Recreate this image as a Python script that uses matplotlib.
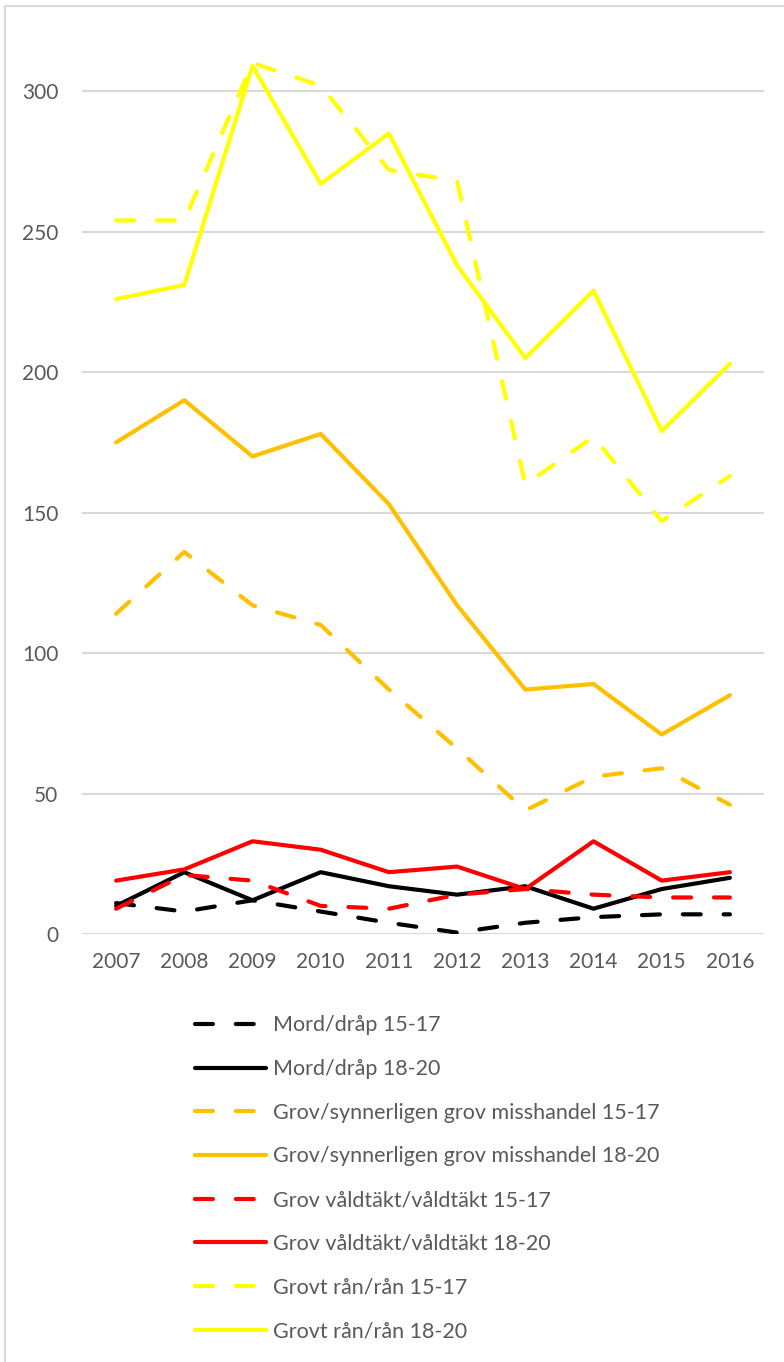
import numpy as np
import matplotlib.pyplot as plt
from matplotlib.patches import Rectangle

plt.rcParams['font.family'] = ['Lato', 'DejaVu Sans']

years = ['2007', '2008', '2009', '2010', '2011', '2012', '2013', '2014', '2015', '2016']

# Mord/dråp
mord_15_17 = [11, 8, 12, 8, 4, 0.5, 4, 6, 7, 7]
mord_18_20 = [10, 22, 12, 22, 17, 14, 17, 9, 16, 20]
# Grov/synnerligen grov misshandel
misshandel_15_17 = [114, 136, 117, 110, 87, 66, 44, 56, 59, 46]
misshandel_18_20 = [175, 190, 170, 178, 153, 117, 87, 89, 71, 85]
# Grov våldtäkt/våldtäkt
valdtakt_15_17 = [9, 21, 19, 10, 9, 14, 16, 14, 13, 13]
valdtakt_18_20 = [19, 23, 33, 30, 22, 24, 16, 33, 19, 22]
# Grovt rån/rån
ran_15_17 = [254, 254, 310, 302, 272, 268, 160, 177, 147, 163]
ran_18_20 = [226, 231, 309, 267, 285, 238, 205, 229, 179, 203]

series = [
    ('Mord/dråp 15-17', mord_15_17, 'black', True),
    ('Mord/dråp 18-20', mord_18_20, 'black', False),
    ('Grov/synnerligen grov misshandel 15-17', misshandel_15_17, '#FFC000', True),
    ('Grov/synnerligen grov misshandel 18-20', misshandel_18_20, '#FFC000', False),
    ('Grov våldtäkt/våldtäkt 15-17', valdtakt_15_17, '#FF0000', True),
    ('Grov våldtäkt/våldtäkt 18-20', valdtakt_18_20, '#FF0000', False),
    ('Grovt rån/rån 15-17', ran_15_17, '#FFFF00', True),
    ('Grovt rån/rån 18-20', ran_18_20, '#FFFF00', False),
]

fig = plt.figure(figsize=(7.84, 13.62), dpi=100)
ax = fig.add_axes([82/784, 1 - 934/1362, (764 - 82)/784, (934 - 35)/1362])

x = np.arange(len(years))
for label, vals, col, dashed in series:
    if dashed:
        ax.plot(x, vals, color=col, lw=3, linestyle=(0, (4.3, 5.5)),
                dash_capstyle='round', label=label)
    else:
        ax.plot(x, vals, color=col, lw=3, solid_capstyle='round', label=label)

ax.set_xlim(-0.5, len(years) - 0.5)
ax.set_ylim(0, 320)
ax.set_yticks(np.arange(0, 301, 50))
ax.set_xticks(x)
ax.set_xticklabels(years)
ax.grid(axis='y', color='#D9D9D9', lw=1.5)
ax.set_axisbelow(True)
for s in ax.spines.values():
    s.set_visible(False)
ax.tick_params(length=0, labelsize=15, colors='#595959', pad=13)
ax.tick_params(axis='y', pad=17)

leg = fig.legend(loc='upper left', bbox_to_anchor=(176/784, 1 - 996/1362),
                 frameon=False, fontsize=15.5, handlelength=3.3, handletextpad=0.3,
                 labelspacing=1.1)
for t in leg.get_texts():
    t.set_color('#595959')

fig.patches.append(Rectangle((5/784, -0.01), 1.0, 1 - 6/1362 + 0.01, transform=fig.transFigure,
                             fill=False, edgecolor='#D9D9D9', lw=1.5))

fig.savefig('out.png', dpi=100)
